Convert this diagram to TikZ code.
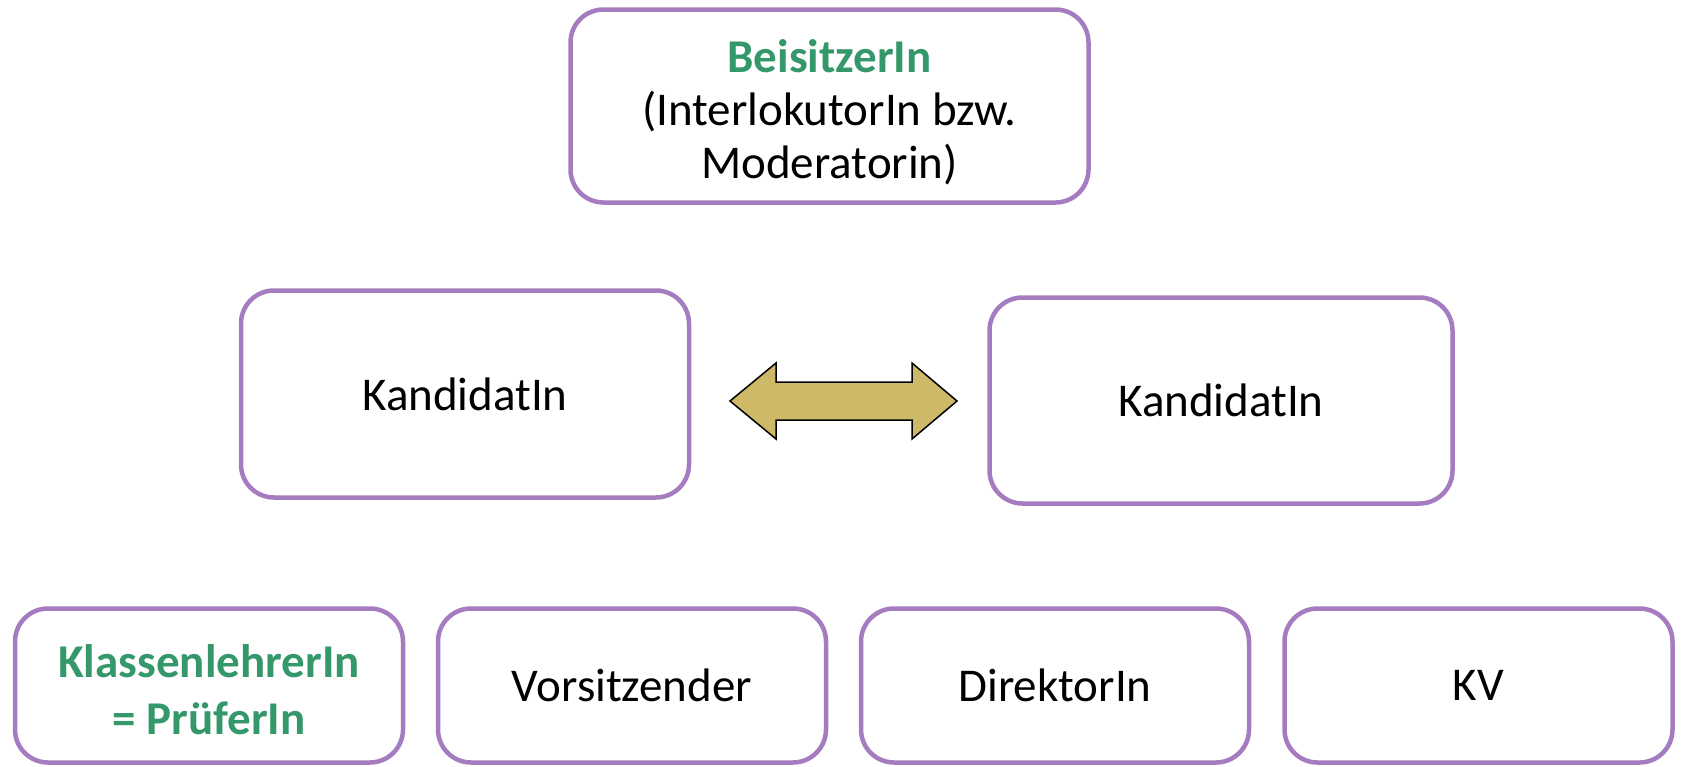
\documentclass[tikz,border=0pt]{standalone}
\usepackage{fontspec}
\setmainfont{Carlito}
\definecolor{boxpurple}{RGB}{166,124,192}
\definecolor{titlegreen}{RGB}{52,152,106}
\definecolor{arrowgold}{RGB}{205,185,103}
\begin{document}
\begin{tikzpicture}[x=1pt,y=-1pt,
  box/.style={draw=boxpurple, line width=4.5pt, rounded corners=33pt, fill=white,
    inner sep=0pt, align=center, font=\fontsize{47}{53}\selectfont},
  plaintext/.style={inner sep=0pt, align=center, font=\fontsize{47}{53}\selectfont},
  greentext/.style={inner sep=0pt, align=center, text=titlegreen, font=\fontsize{47}{57}\selectfont\bfseries},
  goldarrow/.style={draw=black, line width=1.5pt, fill=arrowgold, line join=miter}]
\useasboundingbox (0,0) rectangle (1681,766);
\node[box, minimum width=518pt, minimum height=193pt] (beis) at (829.5,106) {};
\node[plaintext] (beistext) at ([yshift=-6pt]beis.center)
  {{\color{titlegreen}\bfseries BeisitzerIn}\\(InterlokutorIn bzw.\\Moderatorin)};
\node[box, minimum width=448pt, minimum height=207pt] (kandL) at (465,394) {KandidatIn};
\node[box, minimum width=463pt, minimum height=206pt] (kandR) at (1221,400.5) {KandidatIn};
\node[box, minimum width=388pt, minimum height=154pt] (klass) at (209,685.5) {};
\node[greentext] (klasstext) at ([yshift=-4pt]klass.center) {KlassenlehrerIn\\= PrüferIn};
\node[box, minimum width=388pt, minimum height=154pt] (vors) at (632,685.5) {Vorsitzender};
\node[box, minimum width=388pt, minimum height=154pt] (dir) at (1055,685.5) {DirektorIn};
\node[box, minimum width=388pt, minimum height=154pt] (kv) at (1478.5,685.5) {KV};
\draw[goldarrow] (730,401) -- (776,363) -- (776,382) -- (912,382) -- (912,363)
  -- (957,401) -- (912,439) -- (912,420) -- (776,420) -- (776,439) -- cycle;
\end{tikzpicture}
\end{document}
